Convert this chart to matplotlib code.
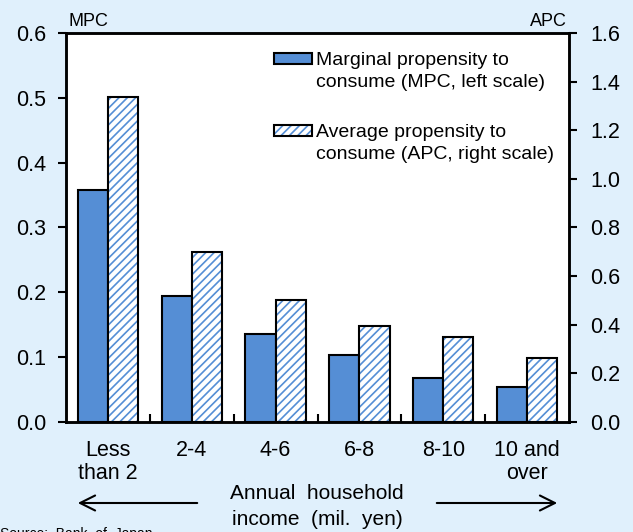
import numpy as np
import matplotlib
matplotlib.use("Agg")
import matplotlib.pyplot as plt
from matplotlib.patches import Rectangle, FancyArrowPatch

#--------------------- Data ---------------------
categories = ["Less\nthan 2", "2-4", "4-6", "6-8", "8-10", "10 and\nover"]
mpc = [0.358, 0.195, 0.136, 0.103, 0.068, 0.054]   # left scale
apc = [1.337, 0.70, 0.50, 0.395, 0.35, 0.263]      # right scale
left_ticks = [0.0, 0.1, 0.2, 0.3, 0.4, 0.5, 0.6]
right_ticks = [0.0, 0.2, 0.4, 0.6, 0.8, 1.0, 1.2, 1.4, 1.6]

#--------------------- Style ---------------------
plt.rcParams['font.family'] = ['Liberation Sans', 'DejaVu Sans']
plt.rcParams['hatch.linewidth'] = 1.2
bg = '#E0F0FC'
blue = '#558ED5'
fs = 15.5

fig = plt.figure(figsize=(6.33, 5.32), dpi=100, facecolor=bg)
ax = fig.add_axes([0.1043, 0.2068, 0.7947, 0.7312])
ax2 = ax.twinx()
ax.set_facecolor('white')

x = np.arange(len(categories))
w = 0.36

# MPC bars (left axis)
ax.bar(x - w / 2, mpc, w, color=blue, edgecolor='black', linewidth=1.5, zorder=3)
# APC bars (right axis): hatch first, then black outline on top
ax2.bar(x + w / 2, apc, w, facecolor='white', edgecolor=blue, hatch='////',
        linewidth=0, zorder=3)
ax2.bar(x + w / 2, apc, w, fill=False, edgecolor='black', linewidth=1.5, zorder=4)

ax.set_xlim(-0.5, len(categories) - 0.5)
ax.set_ylim(0, 0.6)
ax2.set_ylim(0, 1.6)
ax.set_yticks(left_ticks)
ax.set_yticklabels([f"{v:.1f}" for v in left_ticks])
ax2.set_yticks(right_ticks)
ax2.set_yticklabels([f"{v:.1f}" for v in right_ticks])

ax.set_xticks(x)
ax.set_xticklabels(categories, linespacing=1.15)
ax.set_xticks(x[:-1] + 0.5, minor=True)
ax.tick_params(axis='x', which='major', length=0, pad=13, labelsize=fs)
ax.tick_params(axis='x', which='minor', direction='in', length=5.5, width=1.5)
ax.tick_params(axis='y', direction='out', length=6, width=1.5, pad=8, labelsize=fs)
ax2.tick_params(axis='y', direction='out', length=6, width=1.5, pad=9, labelsize=fs)

for a in (ax, ax2):
    for s in a.spines.values():
        s.set_linewidth(1.8)

ax.text(0.004, 1.018, "MPC", transform=ax.transAxes, ha='left', va='baseline', fontsize=13)
ax2.text(0.996, 1.018, "APC", transform=ax2.transAxes, ha='right', va='baseline', fontsize=13)

#--------------------- Legend ---------------------
legend_lines = [
    ["Marginal propensity to", "consume (MPC, left scale)"],
    ["Average propensity to", "consume (APC, right scale)"],
]
handle_y = [0.920, 0.735]
text_y = [(0.9177, 0.8612), (0.7326, 0.6761)]
for i, lines in enumerate(legend_lines):
    y0 = handle_y[i]
    if i == 0:
        ax2.add_patch(Rectangle((0.4135, y0), 0.0755, 0.028, transform=ax2.transAxes,
                                facecolor=blue, edgecolor='black', linewidth=1.5,
                                zorder=5, clip_on=False))
    else:
        ax2.add_patch(Rectangle((0.4135, y0), 0.0755, 0.028, transform=ax2.transAxes,
                                facecolor='white', edgecolor=blue, hatch='////',
                                linewidth=0, zorder=5, clip_on=False))
        ax2.add_patch(Rectangle((0.4135, y0), 0.0755, 0.028, transform=ax2.transAxes,
                                fill=False, edgecolor='black', linewidth=1.5,
                                zorder=6, clip_on=False))
    for line, ty in zip(lines, text_y[i]):
        ax2.text(0.497, ty, line, transform=ax2.transAxes, ha='left',
                 va='baseline', fontsize=14, zorder=6)

#--------------------- Axis caption with arrows ---------------------
fig.text(317 / 633, 1 - 499 / 532, "Annual  household", ha='center', va='baseline', fontsize=15)
fig.text(317 / 633, 1 - 525 / 532, "income  (mil.  yen)", ha='center', va='baseline', fontsize=15)
arrowstyle = '->,head_length=0.9,head_width=0.45'
for tail, tip in [(200, 75), (434, 560)]:
    fig.add_artist(FancyArrowPatch(
        (tail / 633, 1 - 503 / 532), (tip / 633, 1 - 503 / 532),
        transform=fig.transFigure, arrowstyle=arrowstyle, lw=1.5,
        color='black', mutation_scale=12))

fig.text(0.0, 1 - 527 / 532, "Source:  Bank  of  Japan", ha='left', va='top', fontsize=10)

fig.savefig("out.png", dpi=100, facecolor=bg)
